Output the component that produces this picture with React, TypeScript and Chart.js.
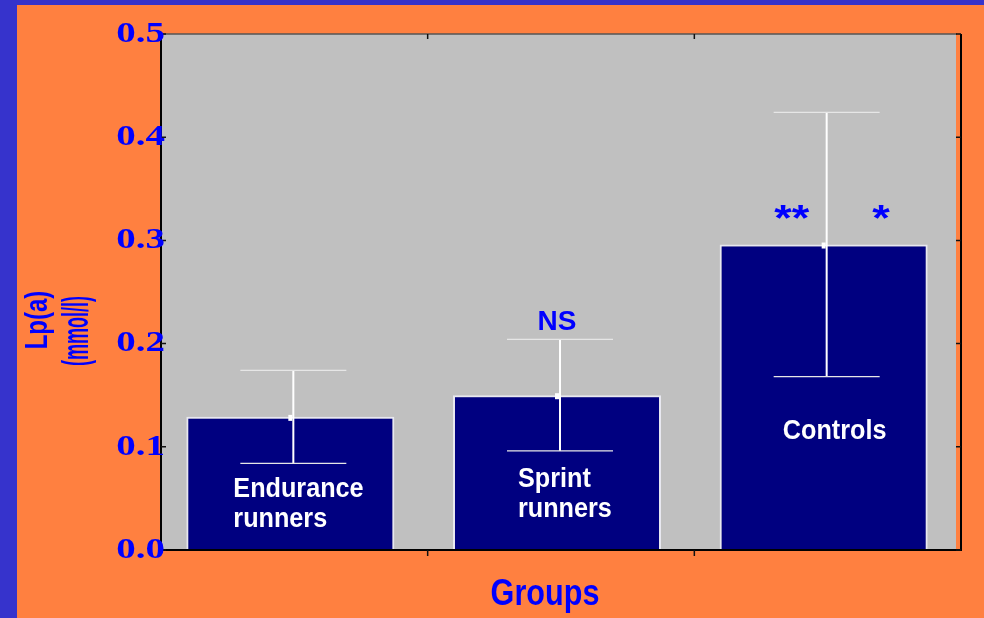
import React, { useEffect, useRef } from "react";
import { Chart, registerables } from "chart.js";

Chart.register(...registerables);

// ---- data ----
const categories = ["Endurance runners", "Sprint runners", "Controls"];
const categoryLines = [["Endurance", "runners"], ["Sprint", "runners"], ["Controls"]];
const means = [0.129, 0.15, 0.296];
const sds = [0.045, 0.054, 0.128];
const yTickValues = [0, 0.1, 0.2, 0.3, 0.4, 0.5];
const labelLevels = [0.059, 0.069, 0.115];
const annotationTexts = ["NS", "**", "*"];
const annotationCats = [1, 2, 2];
const annotationLevels = [0.221, 0.327, 0.327];
const annotationShift = [0.0, -0.12, 0.215];
const yTitleLines = ["Lp(a)", "(mmol/l)"];
const xTitle = "Groups";

const BLUE_TXT = "#0000FF";
const NAVY = "#000080";
const GREY = "#C0C0C0";
const ORANGE = "#FF8040";
const STRIP = "#3633CC";
const AX = 4; // axis frame offset from category area

function sText(ctx: CanvasRenderingContext2D, t: string, x: number, y: number, sx: number) {
  ctx.save();
  ctx.translate(x, y);
  ctx.scale(sx, 1);
  ctx.fillText(t, 0, 0);
  ctx.restore();
}

const deco = {
  id: "deco",
  beforeDraw(chart: any) {
    const { ctx, chartArea: a } = chart;
    ctx.save();
    ctx.fillStyle = GREY;
    ctx.fillRect(a.left + AX, a.top, a.right - a.left - AX - 1, a.bottom - a.top);
    ctx.restore();
  },
  afterDatasetsDraw(chart: any) {
    const { ctx, chartArea: a } = chart;
    const xs = chart.scales.x;
    const ys = chart.scales.y;
    const meta = chart.getDatasetMeta(0);
    const L = a.left + AX;
    const R = a.right + AX;
    ctx.save();
    // axes frame
    ctx.strokeStyle = "#000";
    ctx.lineWidth = 2;
    ctx.beginPath();
    ctx.moveTo(L, a.top);
    ctx.lineTo(L, a.bottom);
    ctx.lineTo(R, a.bottom);
    ctx.lineTo(R, a.top);
    ctx.stroke();
    ctx.strokeStyle = "#555";
    ctx.lineWidth = 1.5;
    ctx.beginPath();
    ctx.moveTo(L, a.top);
    ctx.lineTo(R - 4, a.top);
    ctx.stroke();
    // ticks
    ctx.strokeStyle = "#111";
    ctx.lineWidth = 1.5;
    yTickValues.forEach((v) => {
      const py = ys.getPixelForValue(v);
      ctx.beginPath();
      ctx.moveTo(L, py);
      ctx.lineTo(L + 5, py);
      ctx.moveTo(R, py);
      ctx.lineTo(R - 5, py);
      ctx.stroke();
    });
    for (let i = 0; i < categories.length - 1; i++) {
      const px = (xs.getPixelForValue(i) + xs.getPixelForValue(i + 1)) / 2 + AX;
      ctx.beginPath();
      ctx.moveTo(px, a.bottom);
      ctx.lineTo(px, a.bottom + 6);
      ctx.moveTo(px, a.top);
      ctx.lineTo(px, a.top + 5);
      ctx.stroke();
    }
    // y tick labels
    ctx.fillStyle = BLUE_TXT;
    ctx.font = 'bold 30px "Liberation Serif", serif';
    ctx.textAlign = "right";
    ctx.textBaseline = "middle";
    yTickValues.forEach((v) => {
      const py = ys.getPixelForValue(v);
      sText(ctx, v.toFixed(1), L + 4, py, 1.3);
    });
    // error bars
    meta.data.forEach((bar: any, i: number) => {
      const cx = bar.x + 3;
      const yTop = ys.getPixelForValue(means[i] + sds[i]);
      const yBot = ys.getPixelForValue(means[i] - sds[i]);
      const yMean = ys.getPixelForValue(means[i]);
      ctx.strokeStyle = "#FFFFFF";
      ctx.lineWidth = 2;
      ctx.beginPath();
      ctx.moveTo(cx, yTop);
      ctx.lineTo(cx, yBot);
      ctx.stroke();
      ctx.strokeStyle = "#E6E6E6";
      ctx.lineWidth = 1.2;
      ctx.beginPath();
      ctx.moveTo(cx - 53, yTop);
      ctx.lineTo(cx + 53, yTop);
      ctx.moveTo(cx - 53, yBot);
      ctx.lineTo(cx + 53, yBot);
      ctx.stroke();
      ctx.fillStyle = "#FFFFFF";
      ctx.fillRect(cx - 5, yMean - 2, 4, 6);
    });
    // labels in bars
    ctx.fillStyle = "#FFFFFF";
    ctx.font = 'bold 28px "Liberation Sans", Arial, sans-serif';
    ctx.textBaseline = "middle";
    categoryLines.forEach((lines, i) => {
      const bar: any = meta.data[i];
      const y0 = ys.getPixelForValue(labelLevels[i]);
      if (lines.length === 1) {
        ctx.textAlign = "center";
        sText(ctx, lines[0], bar.x + 11, y0, 0.9);
      } else {
        ctx.textAlign = "left";
        const left = i === 0 ? bar.x - bar.width / 2 + 47 : bar.x - bar.width / 2 + 65;
        lines.forEach((ln, k) => sText(ctx, ln, left, y0 + k * 30, 0.9));
      }
    });
    // annotations
    ctx.fillStyle = BLUE_TXT;
    annotationTexts.forEach((t, i) => {
      const c = annotationCats[i];
      const bar: any = meta.data[c];
      const cw = xs.getPixelForValue(1) - xs.getPixelForValue(0);
      const px = bar.x + annotationShift[i] * cw;
      const py = ys.getPixelForValue(annotationLevels[i]);
      ctx.textAlign = "center";
      if (t.startsWith("*")) {
        ctx.font = 'bold 36px "Liberation Sans", Arial, sans-serif';
        sText(ctx, t, px, py + 9, 1.25);
      } else {
        ctx.font = 'bold 28px "Liberation Sans", Arial, sans-serif';
        sText(ctx, t, px, py, 1.0);
      }
    });
    // axis titles
    ctx.fillStyle = BLUE_TXT;
    ctx.font = 'bold 36px "Liberation Sans", Arial, sans-serif';
    ctx.textAlign = "center";
    ctx.textBaseline = "middle";
    sText(ctx, xTitle, 545, 595, 0.85);
    ctx.font = 'bold 32px "Liberation Sans", Arial, sans-serif';
    ctx.save();
    ctx.translate(38, 320);
    ctx.rotate(-Math.PI / 2);
    sText(ctx, yTitleLines[0], 0, 0, 0.75);
    ctx.restore();
    ctx.font = 'bold 36px "Liberation Sans", Arial, sans-serif';
    ctx.save();
    ctx.translate(78, 331);
    ctx.rotate(-Math.PI / 2);
    sText(ctx, yTitleLines[1], 0, 0, 0.5);
    ctx.restore();
    ctx.restore();
  },
};

export default function App() {
  const ref = useRef<HTMLCanvasElement | null>(null);
  useEffect(() => {
    document.body.style.margin = "0";
    const chart = new Chart(ref.current as HTMLCanvasElement, {
      type: "bar",
      data: {
        labels: categories,
        datasets: [
          {
            data: means,
            backgroundColor: NAVY,
            borderColor: "#E8E8F0",
            borderWidth: 2,
            barPercentage: 1,
            categoryPercentage: 0.78,
          },
        ],
      },
      options: {
        responsive: false,
        animation: false,
        layout: { padding: { left: 117, right: 27, top: 34, bottom: 68 } },
        plugins: { legend: { display: false }, tooltip: { enabled: false } },
        scales: {
          x: { display: false },
          y: {
            min: 0,
            max: 0.5,
            ticks: { stepSize: 0.1, display: false },
            grid: { display: false, drawTicks: false },
            border: { display: false },
            afterFit: (s: any) => {
              s.width = 40;
            },
          },
        },
      },
      plugins: [deco],
    } as any);
    return () => chart.destroy();
  }, []);
  return (
    <div style={{ position: "fixed", left: 0, top: 0, width: 984, height: 618, background: STRIP }}>
      <div style={{ position: "absolute", left: 17, top: 5, width: 967, height: 613, background: ORANGE }} />
      <canvas ref={ref} width={984} height={618} style={{ position: "absolute", left: 0, top: 0, width: 984, height: 618 }} />
    </div>
  );
}
